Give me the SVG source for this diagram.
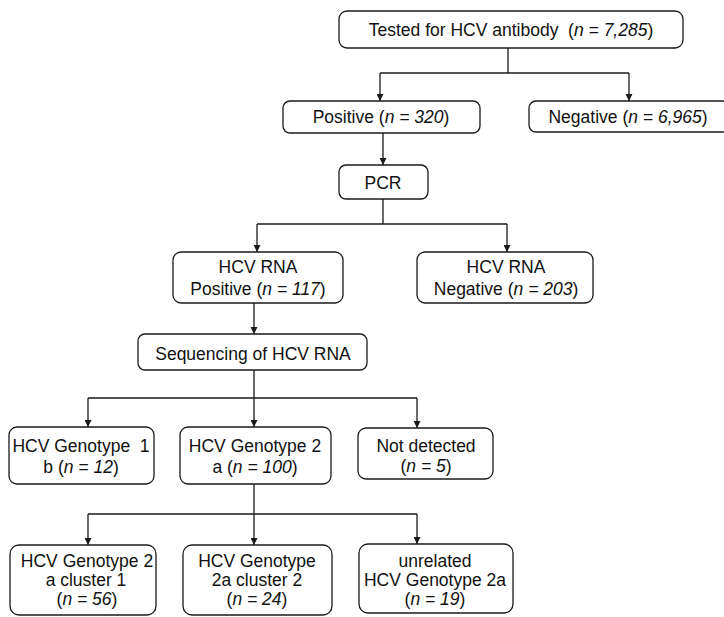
<svg xmlns="http://www.w3.org/2000/svg" width="724" height="617" viewBox="0 0 724 617">
<style>
.box{fill:#fff;stroke:#1a1a1a;stroke-width:1.3}
.ln{fill:none;stroke:#1a1a1a;stroke-width:1.3}
text{font-family:"Liberation Sans",Arial,sans-serif;font-size:17.5px;fill:#111;text-anchor:middle}
.i{font-style:italic}
</style>
<defs>
<marker id="ah" viewBox="0 0 10 10" refX="10" refY="5" markerWidth="7" markerHeight="7" markerUnits="userSpaceOnUse" orient="auto">
<path d="M0,0 L10,5 L0,10 Z" fill="#1a1a1a"/>
</marker>
</defs>
<rect width="724" height="617" fill="#fff"/>
<g id="connectors">
<path class="ln" d="M508,48 V73 M380,73 H629"/>
<path class="ln" d="M380,73 V101" marker-end="url(#ah)"/>
<path class="ln" d="M629,73 V101" marker-end="url(#ah)"/>
<path class="ln" d="M383,133 V165" marker-end="url(#ah)"/>
<path class="ln" d="M383,199 V224 M257,224 H507"/>
<path class="ln" d="M257,224 V252" marker-end="url(#ah)"/>
<path class="ln" d="M507,224 V252" marker-end="url(#ah)"/>
<path class="ln" d="M254,303 V334" marker-end="url(#ah)"/>
<path class="ln" d="M254,370 V398 M88,398 H417"/>
<path class="ln" d="M88,398 V427" marker-end="url(#ah)"/>
<path class="ln" d="M254,398 V427" marker-end="url(#ah)"/>
<path class="ln" d="M417,398 V428" marker-end="url(#ah)"/>
<path class="ln" d="M254,484 V514 M88,514 H417"/>
<path class="ln" d="M88,514 V545" marker-end="url(#ah)"/>
<path class="ln" d="M254,514 V545" marker-end="url(#ah)"/>
<path class="ln" d="M417,514 V544" marker-end="url(#ah)"/>
</g>
<g id="tested">
<rect class="box" x="339" y="11" width="344" height="37" rx="8"/>
<text x="511" y="36" xml:space="preserve">Tested for HCV antibody  (<tspan class="i">n = 7,285</tspan>)</text>
</g>
<g id="positive">
<rect class="box" x="283" y="101" width="197" height="32" rx="7"/>
<text x="381" y="123">Positive (<tspan class="i">n = 320</tspan>)</text>
</g>
<g id="negative">
<rect class="box" x="529" y="101" width="200" height="31" rx="7"/>
<text x="628" y="123">Negative (<tspan class="i">n = 6,965</tspan>)</text>
</g>
<g id="pcr">
<rect class="box" x="339" y="165" width="89" height="34" rx="7"/>
<text x="383" y="189">PCR</text>
</g>
<g id="rna-positive">
<rect class="box" x="173" y="252" width="170" height="51" rx="8"/>
<text x="258" y="273">HCV RNA</text>
<text x="258" y="295">Positive (<tspan class="i">n = 117</tspan>)</text>
</g>
<g id="rna-negative">
<rect class="box" x="417" y="252" width="176" height="51" rx="8"/>
<text x="506" y="273">HCV RNA</text>
<text x="506" y="295">Negative (<tspan class="i">n = 203</tspan>)</text>
</g>
<g id="sequencing">
<rect class="box" x="138" y="334" width="229" height="36" rx="7"/>
<text x="253" y="360">Sequencing of HCV RNA</text>
</g>
<g id="genotype1b">
<rect class="box" x="9" y="427" width="145" height="57" rx="8"/>
<text x="81" y="452" xml:space="preserve">HCV Genotype  1</text>
<text x="81" y="473">b (<tspan class="i">n = 12</tspan>)</text>
</g>
<g id="genotype2a">
<rect class="box" x="180" y="427" width="151" height="57" rx="8"/>
<text x="255" y="452">HCV Genotype 2</text>
<text x="255" y="473">a (<tspan class="i">n = 100</tspan>)</text>
</g>
<g id="not-detected">
<rect class="box" x="358" y="428" width="135" height="51" rx="8"/>
<text x="426" y="452">Not detected</text>
<text x="426" y="472">(<tspan class="i">n = 5</tspan>)</text>
</g>
<g id="cluster1">
<rect class="box" x="10" y="545" width="146" height="70" rx="9"/>
<text x="87" y="567">HCV Genotype 2</text>
<text x="86" y="586">a cluster 1</text>
<text x="87" y="605">(<tspan class="i">n = 56</tspan>)</text>
</g>
<g id="cluster2">
<rect class="box" x="183" y="545" width="149" height="70" rx="9"/>
<text x="257" y="567">HCV Genotype</text>
<text x="257" y="586">2a cluster 2</text>
<text x="257" y="605">(<tspan class="i">n = 24</tspan>)</text>
</g>
<g id="unrelated">
<rect class="box" x="359" y="544" width="154" height="69" rx="9"/>
<text x="435" y="567">unrelated</text>
<text x="435" y="586">HCV Genotype 2a</text>
<text x="435" y="605">(<tspan class="i">n = 19</tspan>)</text>
</g>
</svg>
